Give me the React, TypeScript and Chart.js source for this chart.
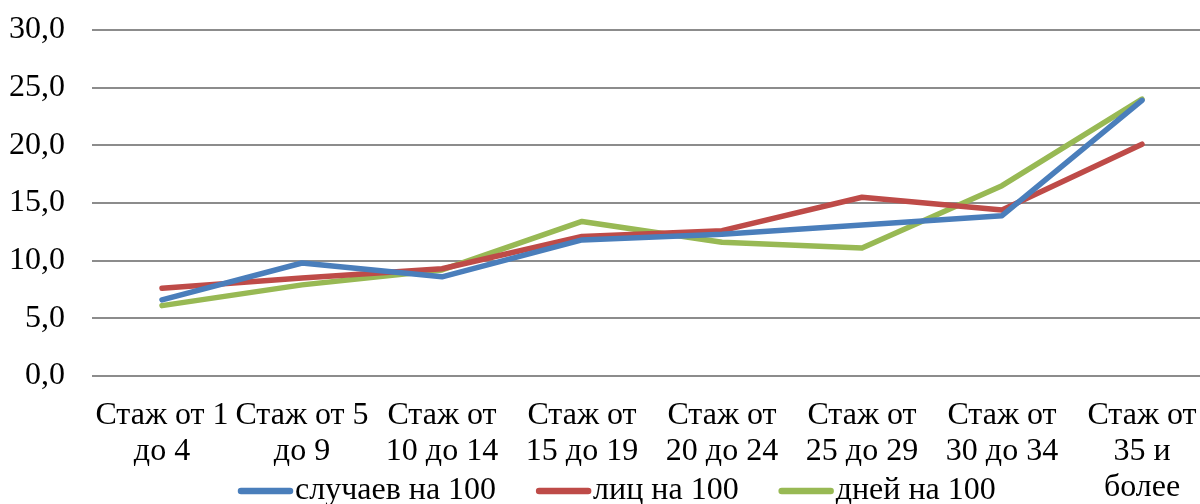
import React, { useEffect, useRef } from "react";
import { Chart, registerables } from "chart.js";

Chart.register(...registerables);

const categories: string[][] = [
  ["Стаж от 1", "до 4"],
  ["Стаж от 5", "до 9"],
  ["Стаж от", "10 до 14"],
  ["Стаж от", "15 до 19"],
  ["Стаж от", "20 до 24"],
  ["Стаж от", "25 до 29"],
  ["Стаж от", "30 до 34"],
  ["Стаж от", "35 и", "более"],
];

const seriesNames = ["случаев на 100", "лиц на 100", "дней на 100"];
const cases = [6.6, 9.8, 8.6, 11.8, 12.3, 13.1, 13.9, 23.9];
const persons = [7.6, 8.5, 9.3, 12.1, 12.6, 15.5, 14.4, 20.1];
const days = [6.1, 7.9, 9.2, 13.4, 11.6, 11.1, 16.5, 24.0];
const colors = ["#4A7EBB", "#BE4B48", "#98B954"];

const FONT = "'Liberation Serif', 'Times New Roman', serif";
const FONT_SIZE = 32;

const customLegend = {
  id: "customLegend",
  afterDraw(chart: any) {
    const ctx = chart.ctx;
    ctx.save();
    ctx.font = `${FONT_SIZE}px ${FONT}`;
    ctx.textBaseline = "middle";
    ctx.textAlign = "left";
    let x = 238;
    const y = 491;
    chart.data.datasets.forEach((ds: any) => {
      ctx.strokeStyle = ds.borderColor;
      ctx.lineWidth = 6.5;
      ctx.lineCap = "round";
      ctx.beginPath();
      ctx.moveTo(x + 3, y);
      ctx.lineTo(x + 52, y);
      ctx.stroke();
      x += 57;
      ctx.fillStyle = "#000";
      ctx.fillText(ds.label, x, y);
      x += ctx.measureText(ds.label).width + 40;
    });
    ctx.restore();
  },
};

export default function App() {
  const ref = useRef<HTMLCanvasElement | null>(null);
  useEffect(() => {
    if (!ref.current) return;
    const chart = new Chart(ref.current, {
      type: "line",
      data: {
        labels: categories,
        datasets: [cases, persons, days].map((d, i) => ({
          label: seriesNames[i],
          data: d,
          borderColor: colors[i],
          backgroundColor: colors[i],
          borderWidth: 5.5,
          pointRadius: 0,
          tension: 0,
          borderCapStyle: "round" as const,
          borderJoinStyle: "round" as const,
        })),
      },
      options: {
        animation: false,
        responsive: true,
        maintainAspectRatio: false,
        layout: { autoPadding: false, padding: { left: 0, top: 30, right: 0, bottom: 0 } },
        plugins: { legend: { display: false }, tooltip: { enabled: false } },
        scales: {
          x: {
            offset: true,
            grid: { display: false },
            border: { display: false },
            afterFit: (s: any) => {
              s.height = 128;
              s.paddingLeft = 0;
              s.paddingRight = 0;
            },
            ticks: {
              autoSkip: false,
              maxRotation: 0,
              minRotation: 0,
              padding: 14,
              color: "#000",
              font: { family: FONT, size: FONT_SIZE, lineHeight: "36px" as any },
            },
          },
          y: {
            min: 0,
            max: 30,
            border: { display: false },
            grid: { color: "#8c8c8c", lineWidth: 2, drawTicks: false },
            afterFit: (s: any) => {
              s.width = 92;
              s.paddingTop = 0;
              s.paddingBottom = 0;
            },
            ticks: {
              stepSize: 5,
              padding: 27,
              color: "#000",
              font: { family: FONT, size: FONT_SIZE },
              callback: (v: any) => Number(v).toFixed(1).replace(".", ","),
            },
          },
        },
      },
      plugins: [customLegend],
    });
    return () => chart.destroy();
  }, []);
  return (
    <div style={{ position: "fixed", left: 0, top: 0, width: 1200, height: 504, overflow: "hidden", background: "#fff" }}>
      <div style={{ position: "absolute", left: 0, top: 0, width: 1212, height: 504 }}>
        <canvas ref={ref} />
      </div>
    </div>
  );
}
